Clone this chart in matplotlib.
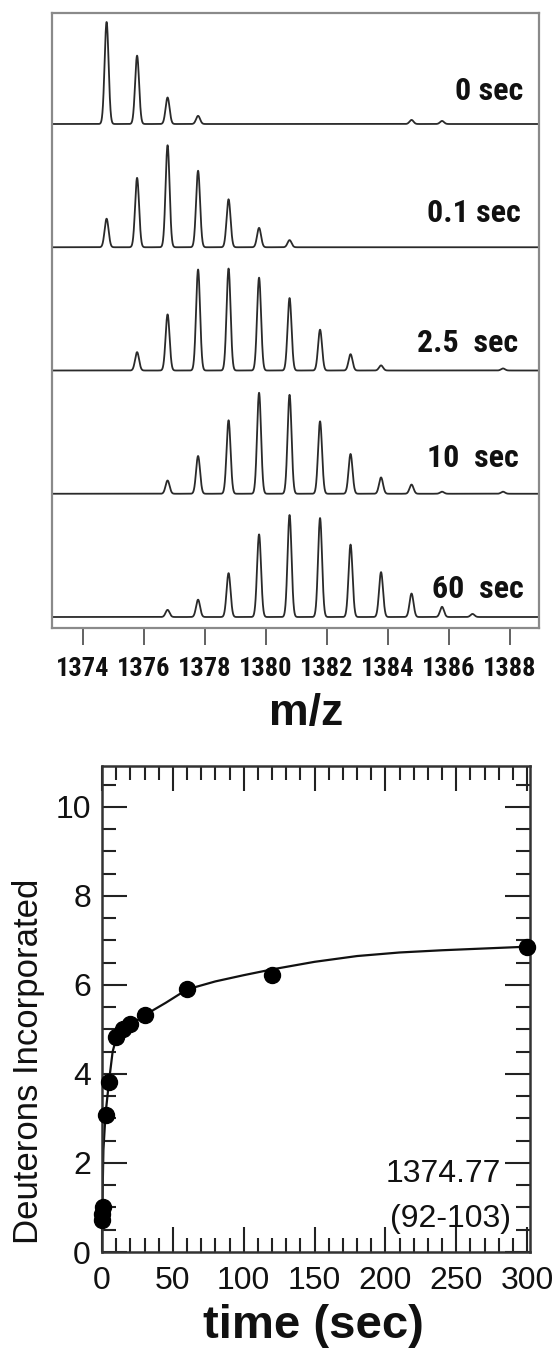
import numpy as np
import matplotlib
matplotlib.use("Agg")
import matplotlib.pyplot as plt
from matplotlib.ticker import MultipleLocator
from matplotlib import font_manager as fm

# ---------------- data ----------------
# top panel: isotope peaks (m/z of monoisotopic peak + k), relative intensities
mono_mz = 1374.77
spec_labels = ["0 sec", "0.1 sec", "2.5  sec", "10  sec", "60  sec"]
spec0_k = [0, 1, 2, 3, 10, 11]
spec0_h = [100, 67, 26, 8, 4, 3]
spec1_k = [0, 1, 2, 3, 4, 5, 6]
spec1_h = [28, 68, 100, 75, 47, 19, 7]
spec2_k = [1, 2, 3, 4, 5, 6, 7, 8, 9, 13]
spec2_h = [18, 55, 99, 100, 91, 71, 40, 16, 5, 2]
spec3_k = [2, 3, 4, 5, 6, 7, 8, 9, 10, 11, 13]
spec3_h = [13, 37, 72, 99, 97, 71, 39, 16, 9, 2, 2]
spec4_k = [2, 3, 4, 5, 6, 7, 8, 9, 10, 11, 12]
spec4_h = [7, 17, 43, 81, 100, 97, 71, 44, 23, 10, 3]
mz_ticks = [1374, 1376, 1378, 1380, 1382, 1384, 1386, 1388]

# bottom panel: deuterons incorporated vs time
time_s = [0.1, 0.3, 0.5, 2.5, 5, 10, 15, 20, 30, 60, 120, 300]
deut = [0.72, 0.86, 1.0, 3.07, 3.82, 4.84, 5.0, 5.12, 5.32, 5.9, 6.22, 6.86]
fit_t = [0, 1, 2.5, 5, 7.5, 10, 15, 20, 30, 45, 60, 80, 100, 120, 150, 180, 210, 240, 270, 300]
fit_d = [0.65, 2.3, 3.1, 3.85, 4.5, 4.8, 4.98, 5.1, 5.32, 5.6, 5.9, 6.08, 6.22, 6.35,
         6.52, 6.65, 6.73, 6.78, 6.82, 6.86]
annot_lines = ["1374.77", "(92-103)"]

# ---------------- fonts ----------------
sans = ["Liberation Sans", "DejaVu Sans"]


def find_condensed_bold():
    prefs = ["liberation sans narrow", "arial narrow", "roboto condensed",
             "open sans condensed", "noto sans condensed", "dejavu sans condensed",
             "dejavu sans"]
    cands = []
    for f in fm.fontManager.ttflist:
        name = f.name.lower()
        fname = f.fname.lower()
        is_cond = ("narrow" in name or "condensed" in name or "narrow" in fname
                   or "condensed" in fname or str(f.stretch) in ("condensed", "semi-condensed",
                                                                   "extra-condensed"))
        w = f.weight if isinstance(f.weight, int) else (700 if "bold" in str(f.weight) else 400)
        if is_cond and w >= 600 and "italic" not in str(f.style) and "oblique" not in str(f.style) \
                and "italic" not in fname and "oblique" not in fname and "extra" not in fname:
            rank = len(prefs)
            for i, p in enumerate(prefs):
                if name.startswith(p) or p.replace(" ", "") in fname.replace("-", ""):
                    rank = i
                    break
            cands.append((rank, f.fname))
    cands.sort()
    return cands[0][1] if cands else None


cond_path = find_condensed_bold()
if cond_path:
    def cond_fp(size):
        return fm.FontProperties(fname=cond_path, size=size)
    lab_size, tick_size = 23, 19
else:
    def cond_fp(size):
        return fm.FontProperties(family=sans, weight="bold", size=size)
    lab_size, tick_size = 19, 15

# ---------------- figure ----------------
W, H = 558, 1351
fig = plt.figure(figsize=(W / 100, H / 100), dpi=100)

# ---- top: mass spectra ----
ax1 = fig.add_axes([52 / W, 1 - 628 / H, (539 - 52) / W, (628 - 12.5) / H])
spacing = 123.25
sigma = 0.065
scale = 1.02
xs = np.linspace(1372.9, 1389.1, 5000)
specs = [(spec0_k, spec0_h), (spec1_k, spec1_h), (spec2_k, spec2_h),
         (spec3_k, spec3_h), (spec4_k, spec4_h)]
label_x = [1388.43, 1388.36, 1388.26, 1388.3, 1388.46]
label_dy = [24.5, 25.5, 18.5, 26.5, 18.5]
for i, (ks, hs) in enumerate(specs):
    base = (4 - i) * spacing
    y = np.full_like(xs, base)
    for k, h in zip(ks, hs):
        y += scale * h * np.exp(-(xs - (mono_mz + k)) ** 2 / (2 * sigma ** 2))
    ax1.plot(xs, y, color="#2a2a2a", lw=1.3)
    ax1.text(label_x[i], base + label_dy[i], spec_labels[i], ha="right", va="baseline",
             fontproperties=cond_fp(lab_size), color="#111111")

ax1.set_xlim(1372.98, 1388.95)
ax1.set_ylim(-11, 604.5)
ax1.set_yticks([])
ax1.set_xticks(mz_ticks)
ax1.set_xticklabels([str(t) for t in mz_ticks], fontproperties=cond_fp(tick_size),
                    color="#111111")
ax1.tick_params(axis="x", direction="out", length=12, width=1.3, color="#555555", pad=9)
for s in ax1.spines.values():
    s.set_color("#8a8a8a")
    s.set_linewidth(1.6)

fig.text(306 / W, 1 - 725 / H, "m/z", ha="center", va="baseline", family=sans,
         fontweight="bold", fontsize=32, color="#111111")

# ---- bottom: deuterium uptake ----
ax2 = fig.add_axes([102 / W, 1 - 1252 / H, (530 - 102) / W, (1252 - 766) / H])
ax2.plot(fit_t, fit_d, color="#111111", lw=1.6, zorder=2)
ax2.plot(time_s, deut, "o", ms=11.5, color="#000000", clip_on=False, zorder=3)
ax2.set_xlim(0, 302)
ax2.set_ylim(0, 10.92)
ax2.xaxis.set_major_locator(MultipleLocator(50))
ax2.xaxis.set_minor_locator(MultipleLocator(10))
ax2.yaxis.set_major_locator(MultipleLocator(2))
ax2.yaxis.set_minor_locator(MultipleLocator(0.5))
ax2.tick_params(which="both", direction="in", top=True, right=True, color="#222222", width=1.5)
ax2.tick_params(which="major", length=18)
ax2.tick_params(which="minor", length=10)
ax2.tick_params(axis="x", which="major", pad=10, labelsize=23)
ax2.tick_params(axis="y", which="major", pad=8, labelsize=23)
for lab in ax2.get_xticklabels() + ax2.get_yticklabels():
    lab.set_family(sans)
    lab.set_color("#111111")
for s in ax2.spines.values():
    s.set_color("#333333")
    s.set_linewidth(1.8)

ax2.text(281.6, 1.57, annot_lines[0], ha="right", va="baseline", family=sans,
         fontsize=23, color="#111111")
ax2.text(288.6, 0.56, annot_lines[1], ha="right", va="baseline", family=sans,
         fontsize=23, color="#111111")

fig.text(29 / W, 1 - 1061 / H, "Deuterons Incorporated", rotation=90, ha="center",
         va="center", family=sans, fontsize=25, color="#111111")
fig.text(313 / W, 1 - 1338 / H, "time (sec)", ha="center", va="baseline", family=sans,
         fontweight="bold", fontsize=34, color="#111111")

fig.savefig("out.png", dpi=100, facecolor="white")
